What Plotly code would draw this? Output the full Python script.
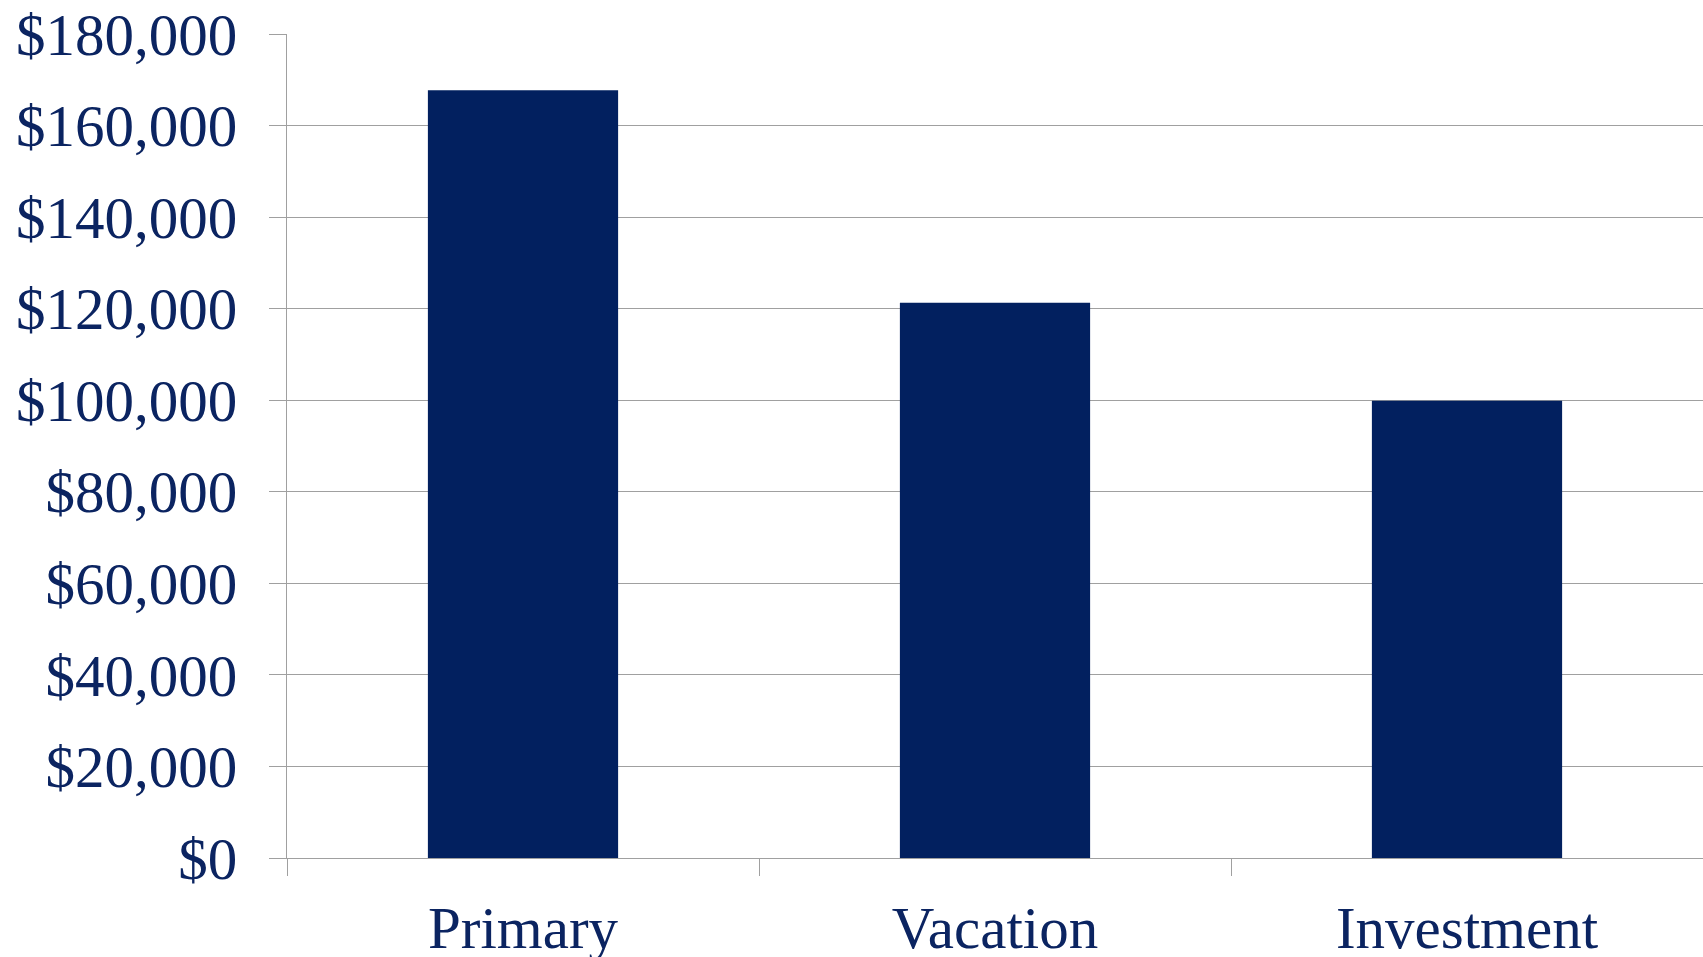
import plotly.graph_objects as go

categories = ["Primary", "Vacation", "Investment"]
values = [167700, 121300, 99900]
y_ticks = [0, 20000, 40000, 60000, 80000, 100000, 120000, 140000, 160000, 180000]

navy = "#02205F"
text_navy = "#0B2461"
grid = "#A0A0A0"
font_family = "Liberation Serif, Times New Roman, serif"

fig = go.Figure(
    go.Bar(x=categories, y=values, marker=dict(color=navy, line=dict(width=0)), width=0.403)
)

fig.update_layout(
    width=1703,
    height=957,
    margin=dict(l=287, r=0, t=34, b=99),
    paper_bgcolor="white",
    plot_bgcolor="white",
    showlegend=False,
    font=dict(family=font_family, color=text_navy, size=59),
)

fig.update_xaxes(
    automargin=False,
    showline=True,
    linecolor=grid,
    linewidth=1,
    ticks="outside",
    tickson="boundaries",
    ticklen=17,
    tickcolor=grid,
    tickwidth=1,
    showgrid=False,
    tickfont=dict(family=font_family, color=text_navy, size=59),
    ticklabelstandoff=18,
)

fig.update_yaxes(
    automargin=False,
    range=[0, 180000],
    tickvals=y_ticks,
    tickformat="$,",
    showline=True,
    linecolor=grid,
    linewidth=1,
    ticks="outside",
    ticklen=17,
    tickcolor=grid,
    tickwidth=1,
    showgrid=True,
    gridcolor=grid,
    gridwidth=1,
    zeroline=False,
    tickfont=dict(family=font_family, color=text_navy, size=59),
    ticklabelstandoff=20,
)

fig.write_html("out.html")
